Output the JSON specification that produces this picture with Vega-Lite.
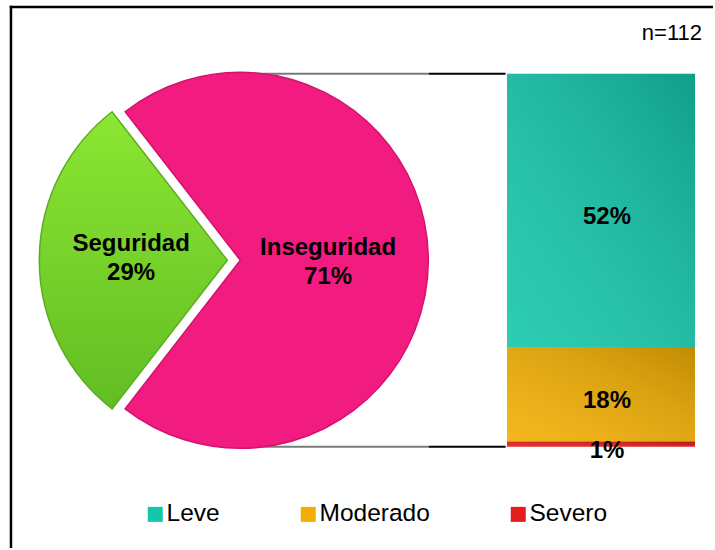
{
  "$schema": "https://vega.github.io/schema/vega-lite/v6.json",
  "width": 715,
  "height": 550,
  "autosize": {"type": "fit", "contains": "padding"},
  "padding": 0,
  "background": "#ffffff",
  "config": {
    "view": {"stroke": null},
    "font": "Liberation Sans",
    "text": {"font": "Liberation Sans", "color": "#000000"}
  },
  "datasets": {
    "seguridad": [
      {"grupo": "Seguridad", "valor": 0.29},
      {"grupo": "Inseguridad", "valor": 0.71}
    ],
    "inseguridad": [
      {"grupo": "Inseguridad", "nivel": "Leve", "valor": 0.52},
      {"grupo": "Inseguridad", "nivel": "Moderado", "valor": 0.18},
      {"grupo": "Inseguridad", "nivel": "Severo", "valor": 0.01}
    ]
  },
  "layer": [
    {
      "data": {"values": [{}]},
      "mark": {"type": "rule", "stroke": "#000000", "strokeWidth": 2.5},
      "encoding": {
        "x": {"datum": 9.8, "type": "quantitative", "scale": {"domain": [0, 715], "nice": false, "zero": false}, "axis": null},
        "x2": {"datum": 715},
        "y": {"datum": 0.83703, "type": "quantitative", "scale": {"domain": [-0.19243, 0.850294], "nice": false, "zero": false}, "axis": null}
      }
    },
    {
      "data": {"values": [{}]},
      "mark": {"type": "rule", "stroke": "#000000", "strokeWidth": 2.5},
      "encoding": {
        "x": {"datum": 11, "type": "quantitative", "scale": {"domain": [0, 715], "nice": false, "zero": false}, "axis": null},
        "y": {"datum": 0.8393, "type": "quantitative", "scale": {"domain": [-0.19243, 0.850294], "nice": false, "zero": false}, "axis": null},
        "y2": {"datum": -0.19243}
      }
    },
    {
      "data": {"name": "inseguridad"},
      "mark": {"type": "rule", "stroke": "#7a7a7a", "strokeWidth": 2},
      "encoding": {
        "x": {"datum": 243, "type": "quantitative", "scale": {"domain": [0, 715], "nice": false, "zero": false}, "axis": null},
        "x2": {"datum": 430},
        "y": {"aggregate": "sum", "field": "valor", "type": "quantitative", "scale": {"domain": [-0.19243, 0.850294], "nice": false, "zero": false}, "axis": null}
      }
    },
    {
      "data": {"name": "inseguridad"},
      "mark": {"type": "rule", "stroke": "#000000", "strokeWidth": 2},
      "encoding": {
        "x": {"datum": 430, "type": "quantitative", "scale": {"domain": [0, 715], "nice": false, "zero": false}, "axis": null},
        "x2": {"datum": 507},
        "y": {"aggregate": "sum", "field": "valor", "type": "quantitative", "scale": {"domain": [-0.19243, 0.850294], "nice": false, "zero": false}, "axis": null}
      }
    },
    {
      "data": {"values": [{}]},
      "mark": {"type": "rule", "stroke": "#7a7a7a", "strokeWidth": 2},
      "encoding": {
        "x": {"datum": 243, "type": "quantitative", "scale": {"domain": [0, 715], "nice": false, "zero": false}, "axis": null},
        "x2": {"datum": 430},
        "y": {"datum": 0, "type": "quantitative", "scale": {"domain": [-0.19243, 0.850294], "nice": false, "zero": false}, "axis": null}
      }
    },
    {
      "data": {"values": [{}]},
      "mark": {"type": "rule", "stroke": "#000000", "strokeWidth": 2},
      "encoding": {
        "x": {"datum": 430, "type": "quantitative", "scale": {"domain": [0, 715], "nice": false, "zero": false}, "axis": null},
        "x2": {"datum": 507},
        "y": {"datum": 0, "type": "quantitative", "scale": {"domain": [-0.19243, 0.850294], "nice": false, "zero": false}, "axis": null}
      }
    },
    {
      "data": {"name": "seguridad"},
      "transform": [{"stack": "valor", "groupby": [], "as": ["v0", "v1"]}],
      "layer": [
        {
          "transform": [{"filter": "datum.grupo === 'Inseguridad'"}],
          "mark": {"type": "arc", "outerRadius": 188, "color": "#F21B80", "stroke": "#d3126c", "strokeWidth": 1.5},
          "encoding": {
            "theta": {"field": "v0", "type": "quantitative", "scale": {"domain": [0, 1], "range": [3.8013, 10.0845]}},
            "theta2": {"field": "v1"},
            "x": {"datum": 241, "type": "quantitative", "stack": false, "scale": {"domain": [0, 715], "nice": false, "zero": false}, "axis": null},
            "y": {"datum": 0.355, "type": "quantitative", "scale": {"domain": [-0.19243, 0.850294], "nice": false, "zero": false}, "axis": null}
          }
        },
        {
          "transform": [{"filter": "datum.grupo === 'Seguridad'"}],
          "mark": {
            "type": "arc", "outerRadius": 188, "xOffset": -13,
            "color": {"gradient": "linear", "x1": 0, "y1": 0, "x2": 0, "y2": 1, "stops": [{"offset": 0, "color": "#8ce632"}, {"offset": 1, "color": "#62bd24"}]},
            "stroke": "#5aae20", "strokeWidth": 1.5
          },
          "encoding": {
            "theta": {"field": "v0", "type": "quantitative", "scale": {"domain": [0, 1], "range": [3.8013, 10.0845]}},
            "theta2": {"field": "v1"},
            "x": {"datum": 241, "type": "quantitative", "stack": false, "scale": {"domain": [0, 715], "nice": false, "zero": false}, "axis": null},
            "y": {"datum": 0.355, "type": "quantitative", "scale": {"domain": [-0.19243, 0.850294], "nice": false, "zero": false}, "axis": null}
          }
        },
        {
          "transform": [{"filter": "datum.grupo === 'Seguridad'"}],
          "mark": {"type": "text", "fontSize": 24, "fontWeight": "bold", "align": "center", "baseline": "middle", "dy": -16},
          "encoding": {
            "text": {"field": "grupo"},
            "x": {"datum": 131.5, "type": "quantitative", "scale": {"domain": [0, 715], "nice": false, "zero": false}, "axis": null},
            "y": {"datum": 0.355, "type": "quantitative", "scale": {"domain": [-0.19243, 0.850294], "nice": false, "zero": false}, "axis": null}
          }
        },
        {
          "transform": [{"filter": "datum.grupo === 'Seguridad'"}],
          "mark": {"type": "text", "fontSize": 24, "fontWeight": "bold", "align": "center", "baseline": "middle", "dy": 13},
          "encoding": {
            "text": {"field": "valor", "format": ".0%"},
            "x": {"datum": 131.5, "type": "quantitative", "scale": {"domain": [0, 715], "nice": false, "zero": false}, "axis": null},
            "y": {"datum": 0.355, "type": "quantitative", "scale": {"domain": [-0.19243, 0.850294], "nice": false, "zero": false}, "axis": null}
          }
        },
        {
          "transform": [{"filter": "datum.grupo === 'Inseguridad'"}],
          "mark": {"type": "text", "fontSize": 24, "fontWeight": "bold", "align": "center", "baseline": "middle", "dy": -12},
          "encoding": {
            "text": {"field": "grupo"},
            "x": {"datum": 329, "type": "quantitative", "scale": {"domain": [0, 715], "nice": false, "zero": false}, "axis": null},
            "y": {"datum": 0.355, "type": "quantitative", "scale": {"domain": [-0.19243, 0.850294], "nice": false, "zero": false}, "axis": null}
          }
        },
        {
          "transform": [{"filter": "datum.grupo === 'Inseguridad'"}],
          "mark": {"type": "text", "fontSize": 24, "fontWeight": "bold", "align": "center", "baseline": "middle", "dy": 17},
          "encoding": {
            "text": {"field": "valor", "format": ".0%"},
            "x": {"datum": 329, "type": "quantitative", "scale": {"domain": [0, 715], "nice": false, "zero": false}, "axis": null},
            "y": {"datum": 0.355, "type": "quantitative", "scale": {"domain": [-0.19243, 0.850294], "nice": false, "zero": false}, "axis": null}
          }
        }
      ]
    },
    {
      "data": {"name": "inseguridad"},
      "encoding": {
        "x": {"field": "grupo", "type": "nominal", "scale": {"type": "band", "domain": ["Inseguridad"], "range": [507, 695], "paddingInner": 0, "paddingOuter": 0}, "axis": null},
        "y": {"field": "valor", "type": "quantitative", "stack": "zero", "scale": {"domain": [-0.19243, 0.850294], "nice": false, "zero": false}, "axis": null},
        "order": {"field": "valor", "sort": "ascending"}
      },
      "layer": [
        {
          "mark": {"type": "bar"},
          "encoding": {
            "color": {
              "field": "nivel",
              "type": "nominal",
              "scale": {"domain": ["Leve", "Moderado", "Severo"], "range": ["#14c6aa", "#f2ae02", "#e41c1c"]},
              "legend": {
                "orient": "none",
                "legendX": 143,
                "legendY": 502,
                "direction": "horizontal",
                "title": null,
                "symbolType": "square",
                "symbolSize": 225,
                "symbolStrokeWidth": 0,
                "labelFontSize": 24.5,
                "labelFont": "Liberation Sans",
                "labelColor": "#000000",
                "labelOffset": -1,
                "columnPadding": 76,
                "padding": 0
              }
            }
          }
        },
        {
          "mark": {
            "type": "bar",
            "color": {"gradient": "linear", "x1": 0, "y1": 1, "x2": 1, "y2": 0, "stops": [{"offset": 0, "color": "rgba(255,255,255,0.1)"}, {"offset": 1, "color": "rgba(0,0,0,0.2)"}]}
          }
        },
        {
          "mark": {"type": "text", "fontSize": 24, "fontWeight": "bold", "align": "center", "baseline": "middle", "dx": 6, "dy": 7},
          "encoding": {
            "y": {"field": "valor", "type": "quantitative", "stack": "zero", "bandPosition": 0.5, "scale": {"domain": [-0.19243, 0.850294], "nice": false, "zero": false}, "axis": null},
            "text": {"field": "valor", "format": ".0%"}
          }
        }
      ]
    },
    {
      "data": {"values": [{}]},
      "mark": {"type": "text", "text": "n=112", "fontSize": 22, "align": "right", "baseline": "middle"},
      "encoding": {
        "x": {"datum": 704, "type": "quantitative", "scale": {"domain": [0, 715], "nice": false, "zero": false}, "axis": null},
        "y": {"datum": 0.788, "type": "quantitative", "scale": {"domain": [-0.19243, 0.850294], "nice": false, "zero": false}, "axis": null}
      }
    }
  ],
  "resolve": {"scale": {"x": "independent"}}
}
